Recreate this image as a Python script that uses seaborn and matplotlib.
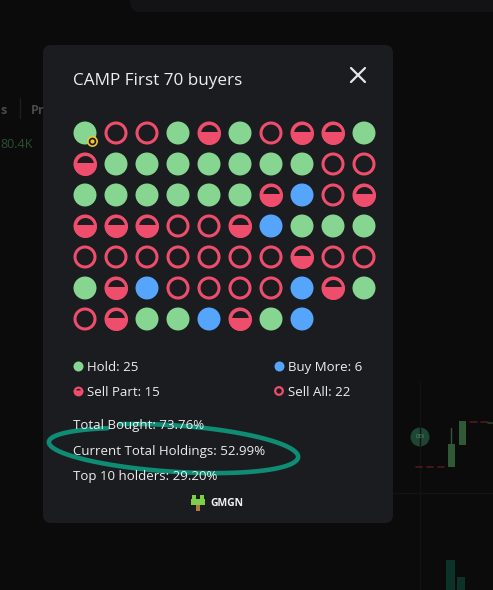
import numpy as np
import pandas as pd
import matplotlib.pyplot as plt
import seaborn as sns
from matplotlib.patches import FancyBboxPatch, Rectangle, Circle

# ==============================
# Data
# ==============================
title = "CAMP First 70 buyers"

# H = Hold, B = Buy More, P = Sell Part, A = Sell All
grid_rows = [
    "HAAHPHAPPH",
    "PHHHHHHHAA",
    "HHHHHHPBAP",
    "PPPAAPBHHH",
    "AAAAAAAPAA",
    "HPBAAAABPH",
    "APHHBPHB",
]
status_names = {"H": "Hold", "B": "Buy More", "P": "Sell Part", "A": "Sell All"}
legend_counts = {"Hold": 25, "Buy More": 6, "Sell Part": 15, "Sell All": 22}
stat_labels = ["Total Bought", "Current Total Holdings", "Top 10 holders"]
stat_values = [73.76, 52.99, 29.20]

records = []
for r, row in enumerate(grid_rows):
    for c, code in enumerate(row):
        records.append({"col": c, "row": r, "status": status_names[code]})
df = pd.DataFrame(records)

# ==============================
# Style
# ==============================
GREEN = "#86d692"
RED = "#ef4d6c"
BLUE = "#56a5fd"
PANEL = "#1b1c20"
BG = "#0b0b0c"
TEXT = "#eeeeee"

sns.set_style("dark")
plt.rcParams["font.family"] = ["Open Sans", "DejaVu Sans"]

fig = plt.figure(figsize=(4.93, 5.90), dpi=100, facecolor=BG)
ax = fig.add_axes([0, 0, 1, 1])
ax.set_xlim(0, 493)
ax.set_ylim(590, 0)
ax.axis("off")

# faint page behind the popup
ax.add_patch(FancyBboxPatch((130, -20), 400, 32, boxstyle="round,pad=0,rounding_size=10",
                            fc="#131315", ec="none"))
ax.text(0, 110, "s", color="#4a4a4a", fontsize=9, fontweight="bold", va="center")
ax.plot([20, 20], [98, 118], color="#1e1e1e", lw=1)
ax.text(31, 110, "Pr", color="#4a4a4a", fontsize=9, fontweight="bold", va="center")
ax.text(0, 145, "80.4K", color="#28512f", fontsize=9, va="center")
ax.plot([393, 493], [493, 493], color="#141414", lw=1)
ax.plot([420, 420], [380, 590], color="#121212", lw=1)
ax.add_patch(Circle((420, 437), 9.5, fc="#1d4634", ec="none"))
ax.text(420, 437, "DEX", color="#5e8a72", fontsize=3.5, ha="center", va="center")
for x0 in [416, 427, 438]:
    ax.plot([x0, x0 + 6], [467, 467], color="#4a1a20", lw=1.2)
for x0 in [470, 481]:
    ax.plot([x0, x0 + 7], [422, 422], color="#4a1a20", lw=1.2)
ax.plot([488, 493], [423, 423], color="#24402a", lw=1.2)
ax.plot([451, 451], [428, 444], color="#305a36", lw=1)
ax.add_patch(Rectangle((448, 444), 7, 23, fc="#305a36", ec="none"))
ax.add_patch(Rectangle((459, 421), 7, 24, fc="#305a36", ec="none"))
ax.add_patch(Rectangle((446, 560), 9, 30, fc="#0d3329", ec="none"))
ax.add_patch(Rectangle((457, 577), 8, 13, fc="#0d3329", ec="none"))

# popup panel
ax.add_patch(FancyBboxPatch((43, 45), 350, 478, boxstyle="round,pad=0,rounding_size=8",
                            fc=PANEL, ec="none"))
ax.text(73, 81, title, color=TEXT, fontsize=12.3, va="center")
ax.plot([351, 365], [68, 82], color="#e6e6e6", lw=1.6)
ax.plot([351, 365], [82, 68], color="#e6e6e6", lw=1.6)

# ==============================
# Buyer grid
# ==============================
gx = fig.add_axes([69.5 / 493, 1 - 334.5 / 590, 310 / 493, 217 / 590])
gx.set_xlim(-0.5, 9.5)
gx.set_ylim(6.5, -0.5)
gx.axis("off")
gx.patch.set_alpha(0)

filled = df[df["status"].isin(["Hold", "Buy More"])]
sns.scatterplot(data=filled, x="col", y="row", hue="status",
                palette={"Hold": GREEN, "Buy More": BLUE},
                s=274, linewidth=0, legend=False, ax=gx)

rings = df[df["status"].isin(["Sell Part", "Sell All"])]
gx.scatter(rings["col"], rings["row"], s=207, facecolors="none",
           edgecolors=RED, linewidths=2.2)

part = df[df["status"] == "Sell Part"]
gx.plot(part["col"], part["row"], ls="none", marker="o", ms=14.4,
        fillstyle="bottom", mfc=RED, mfcalt=PANEL, mec=RED, mew=2.2)

# first buyer badge
gx.scatter([0.23], [0.26], s=62, color="#f2c230", linewidth=0, zorder=5)
gx.scatter([0.23], [0.26], s=30, color=PANEL, linewidth=0, zorder=6)
gx.scatter([0.23], [0.26], s=9, color="#f2c230", linewidth=0, zorder=7)

# ==============================
# Legend and stats
# ==============================
legend_pos = {"Hold": (78, 366), "Buy More": (279, 366),
              "Sell Part": (78, 391), "Sell All": (279, 391)}
for name, (lx, ly) in legend_pos.items():
    if name == "Hold":
        ax.scatter([lx], [ly], s=52, color=GREEN, linewidth=0)
    elif name == "Buy More":
        ax.scatter([lx], [ly], s=52, color=BLUE, linewidth=0)
    elif name == "Sell All":
        ax.scatter([lx], [ly], s=30, facecolors="none", edgecolors=RED, linewidths=1.6)
    else:
        ax.plot([lx], [ly], marker="o", ms=5.5, fillstyle="bottom", mfc=RED,
                mfcalt=PANEL, mec=RED, mew=1.6)
    ax.text(lx + 9, ly + 1.5, f"{name}: {legend_counts[name]}", color=TEXT,
            fontsize=9.5, va="center")

for i, (lab, val) in enumerate(zip(stat_labels, stat_values)):
    ax.text(73, 425.5 + 25.5 * i, f"{lab}: {val:.2f}%", color=TEXT,
            fontsize=9.5, va="center")

# GMGN footer
ax.add_patch(Rectangle((191, 499), 14, 6, fc="#7ccf46", ec="none"))
ax.add_patch(Rectangle((192, 495), 4, 4, fc="#7ccf46", ec="none"))
ax.add_patch(Rectangle((200, 495), 4, 4, fc="#7ccf46", ec="none"))
ax.add_patch(Rectangle((196, 505), 4, 6, fc="#b07a3a", ec="none"))
ax.text(210, 504, "GMGN", color="#f0f0f0", fontsize=7.5, fontweight="bold", va="center")

# hand drawn loop around holdings
t = np.linspace(-2.14, -8.30, 300)
prog = (t - t[0]) / (t[-1] - t[0])
a = 124 + 2 * prog
b = 20.5 + 4 * prog
th = np.deg2rad(3.5)
px = a * np.cos(t)
py = b * np.sin(t)
ex = 173 + px * np.cos(th) - py * np.sin(th)
ey = 449.5 + px * np.sin(th) + py * np.cos(th)
ax.plot(ex, ey, color="#0e8c74", lw=3.3, solid_capstyle="round")

fig.savefig("out.png", dpi=100, facecolor=BG)
